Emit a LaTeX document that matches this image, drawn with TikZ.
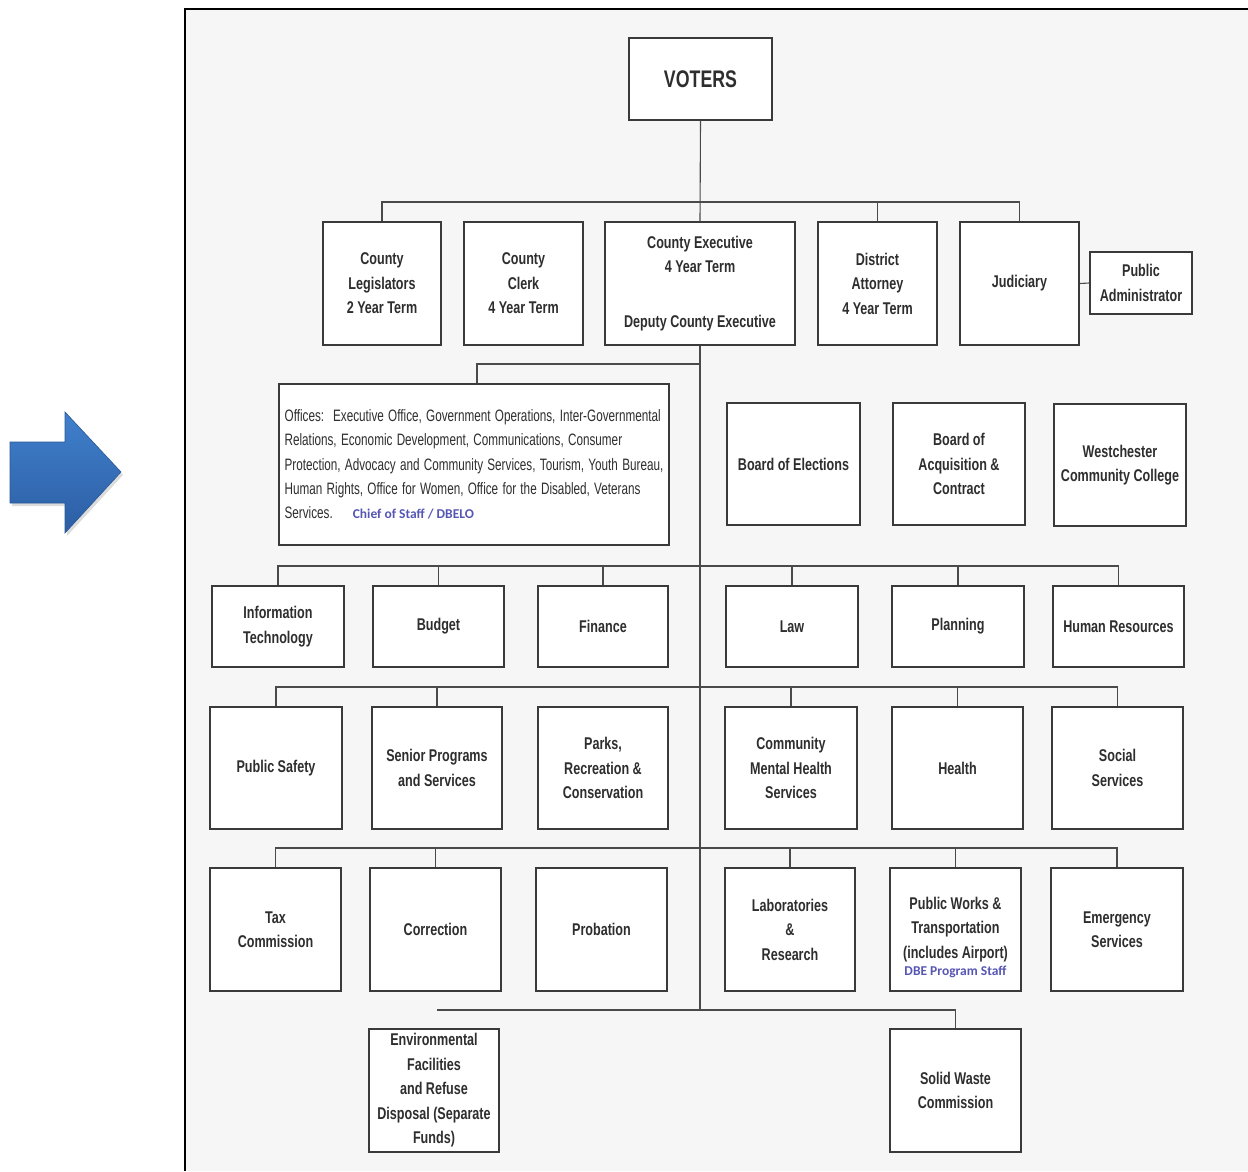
\documentclass[tikz,border=0pt]{standalone}
\usepackage{fontspec}
\setmainfont{Liberation Sans}
\newfontfamily\boxfont{Liberation Sans}[FakeStretch=0.74]
\newfontfamily\offfont{Liberation Sans}[FakeStretch=0.71]
\newfontfamily\calfont{Carlito}
\newcommand{\offsetup}{\frenchspacing\spaceskip 4.3pt plus 1pt minus 1pt\relax}
\newcommand{\bluesetup}{\spaceskip 0pt\relax\color{blu}\calfont\bfseries\fontsize{13.5}{15}\selectfont}
\definecolor{txt}{HTML}{2E2E2E}
\definecolor{boxc}{HTML}{3A3A3A}
\definecolor{linec}{HTML}{4A4A4A}
\definecolor{bgc}{HTML}{F6F6F6}
\definecolor{blu}{HTML}{5656B4}
\tikzset{
  orgbox/.style={draw=boxc, line width=1.4pt, fill=white, align=center, inner sep=2pt,
    text=txt, font=\boxfont\bfseries\fontsize{17}{24.5}\selectfont,
    minimum width=131pt, minimum height=122pt},
  shortbox/.style={orgbox, minimum height=81pt},
  conn/.style={draw=linec, line width=1.1pt},
  bluetext/.style={text=blu, font=\calfont\bfseries\fontsize{13.5}{15}\selectfont, inner sep=0pt}
}
\begin{document}
\begin{tikzpicture}[x=1pt,y=-1pt]
\useasboundingbox (0,0) rectangle (1248,1171);
\fill[white] (0,0) rectangle (1248,1171);
% frame
\fill[bgc] (185,9) rectangle (1248,1171);
\draw[line width=2.5pt, black] (1248,9) -- (185,9) -- (185,1171);
% blue arrow
\fill[gray!45, opacity=0.6] (12,445) -- (67,445) -- (67,415) -- (123,475) -- (67,536) -- (67,506) -- (12,506) -- cycle;
\shade[top color={rgb,255:red,64;green,128;blue,204}, bottom color={rgb,255:red,44;green,94;blue,164}, draw={rgb,255:red,40;green,88;blue,150}, line width=0.6pt]
  (10,442) -- (65,442) -- (65,412) -- (121,472) -- (65,533) -- (65,503) -- (10,503) -- cycle;

% top
\node[orgbox, minimum width=143pt, minimum height=82pt, font=\boxfont\bfseries\fontsize{24}{28}\selectfont] (voters) at (700.5,79) {VOTERS};

% row 1
\node[orgbox, minimum width=118pt, minimum height=123pt] (leg) at (382,283.5) {County\\Legislators\\2 Year Term};
\node[orgbox, minimum width=119pt, minimum height=123pt] (clerk) at (523.5,283.5) {County\\Clerk\\4 Year Term};
\node[orgbox, minimum width=190pt, minimum height=123pt] (ce) at (700,283.5) {County Executive\\4 Year Term\\[30pt]Deputy County Executive};
\node[orgbox, minimum width=119pt, minimum height=123pt] (da) at (877.5,283.5) {District\\Attorney\\4 Year Term};
\node[orgbox, minimum width=119pt, minimum height=123pt] (jud) at (1019.5,283.5) {Judiciary};
\node[orgbox, minimum width=102pt, minimum height=62pt] (pa) at (1141,283) {Public\\Administrator};

% offices and boards
\node[orgbox, minimum width=390pt, minimum height=161pt, align=left,
  font=\offfont\fontsize{16.5}{24.4}\selectfont\offsetup] (off) at (474,464.5)
  {Offices:\hspace{9pt}Executive Office, Government Operations, Inter-Governmental\\
   Relations, Economic Development, Communications, Consumer\\
   Protection, Advocacy and Community Services, Tourism, Youth Bureau,\\
   Human Rights, Office for Women, Office for the Disabled, Veterans\\
   Services.\hspace{20pt}{\bluesetup Chief of Staff / DBELO}};
\node[orgbox, minimum width=133pt] (boe) at (793.5,464) {Board of Elections};
\node[orgbox, minimum width=132pt] (boa) at (959,464) {Board of\\Acquisition \&\\Contract};
\node[orgbox, minimum width=132pt] (wcc) at (1120,465) {Westchester\\Community College};

% row 2
\node[shortbox, minimum width=132pt] (it) at (278,626.5) {Information\\Technology};
\node[shortbox] (budget) at (438.5,626.5) {Budget};
\node[shortbox, minimum width=130pt] (fin) at (603,626.5) {Finance};
\node[shortbox, minimum width=132pt] (law) at (792,626.5) {Law};
\node[shortbox, minimum width=132pt] (plan) at (958,626.5) {Planning};
\node[shortbox] (hr) at (1118.5,626.5) {Human Resources};

% row 3
\node[orgbox, minimum width=132pt] (ps) at (276,768) {Public Safety};
\node[orgbox, minimum width=130pt] (senior) at (437,768) {Senior Programs\\and Services};
\node[orgbox, minimum width=130pt] (parks) at (603,768) {Parks,\\Recreation \&\\Conservation};
\node[orgbox, minimum width=132pt] (cmhs) at (791,768) {Community\\Mental Health\\Services};
\node[orgbox] (health) at (957.5,768) {Health};
\node[orgbox] (social) at (1117.5,768) {Social\\Services};

% row 4
\node[orgbox, minimum height=123pt] (tax) at (275.5,929.5) {Tax\\Commission};
\node[orgbox, minimum height=123pt] (corr) at (435.5,929.5) {Correction};
\node[orgbox, minimum height=123pt] (prob) at (601.5,929.5) {Probation};
\node[orgbox, minimum width=130pt, minimum height=123pt] (labs) at (790,929.5) {Laboratories\\\&\\Research};
\node[orgbox, minimum height=123pt] (pw) at (955.5,929.5) {Public Works \&\\Transportation\\(includes Airport)};
\node[bluetext] (dbe) at (955.5,972) {DBE Program Staff};
\node[orgbox, minimum width=132pt, minimum height=123pt] (emerg) at (1117,929.5) {Emergency\\Services};

% row 5
\node[orgbox, minimum width=130pt, minimum height=123pt] (env) at (434,1090.5) {Environmental\\Facilities\\and Refuse\\Disposal (Separate\\Funds)};
\node[orgbox, minimum height=123pt] (sw) at (955.5,1090.5) {Solid Waste\\Commission};

% connectors
\coordinate (b1) at (700,202);
\coordinate (bo) at (700,364);
\coordinate (b2) at (700,566);
\coordinate (b3) at (700,687);
\coordinate (b4) at (700,848);
\coordinate (b5) at (700,1010);
\coordinate (b5l) at (437,1010);

\draw[conn] (voters.south) -- (ce.north);
\draw[conn] (leg.north) |- (b1) -| (jud.north);
\draw[conn] (da.north) |- (b1);
\draw[conn] (jud.east) -- (pa.west);
\draw[conn] (ce.south) -- (b5);
\draw[conn] ([xshift=3pt]off.north) |- (bo);

\draw[conn] (it.north) |- (b2) -| (hr.north);
\draw[conn] (budget.north) |- (b2);
\draw[conn] (fin.north) |- (b2);
\draw[conn] (law.north) |- (b2);
\draw[conn] (plan.north) |- (b2);

\draw[conn] (ps.north) |- (b3) -| (social.north);
\draw[conn] (senior.north) |- (b3);
\draw[conn] (cmhs.north) |- (b3);
\draw[conn] (health.north) |- (b3);

\draw[conn] (tax.north) |- (b4) -| (emerg.north);
\draw[conn] (corr.north) |- (b4);
\draw[conn] (labs.north) |- (b4);
\draw[conn] (pw.north) |- (b4);

\draw[conn] (b5l) -- (b5) -| (sw.north);
\end{tikzpicture}
\end{document}
